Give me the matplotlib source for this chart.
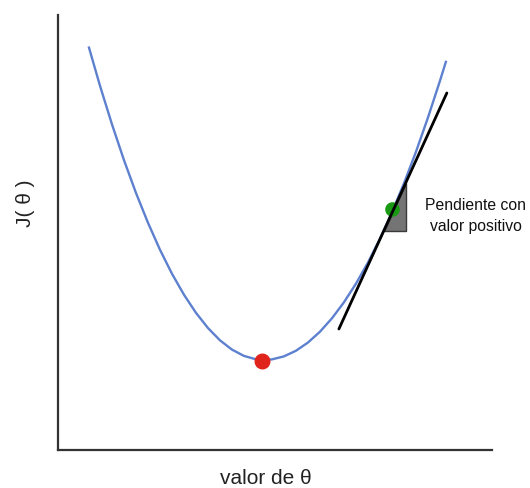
import matplotlib
matplotlib.use("Agg")
import matplotlib.pyplot as plt
from matplotlib.patches import Polygon

# curva de coste J(theta)
theta = [-175, -164, -152, -140, -128, -116, -104, -92, -80, -68, -56, -44, -32, -20, -8, 0,
         8, 20, 32, 44, 56, 68, 80, 92, 104, 116, 128, 140, 152, 164, 176, 182]
J = [402.4, 364.3, 325.7, 289.9, 257.1, 227.3, 200.3, 176.3, 155.3, 137.2, 122.0, 109.7, 100.4, 94.1, 90.7, 90.0,
     90.6, 93.6, 99.2, 107.4, 118.2, 131.6, 147.6, 166.2, 187.3, 211.1, 237.5, 266.4, 297.9, 332.1, 368.8, 388.1]

# minimo y punto con pendiente positiva
min_pt = (-2, 89)
pos_pt = (128, 241)

# recta tangente
tan_x = [75, 183]
tan_y = [121, 357]

# triangulo de pendiente
tri_x = [120, 142, 142]
tri_y = [219, 219, 267]

fig = plt.figure(figsize=(5.3, 4.88), dpi=100)
ax = fig.add_axes([0.1094, 0.0779, 0.8186, 0.8914])
plt.rcParams['font.family'] = ['Liberation Sans', 'DejaVu Sans']

ax.plot(theta, J, color='#5d80cf', lw=1.7, zorder=2)
ax.add_patch(Polygon(list(zip(tri_x, tri_y)), closed=True, facecolor='#747474',
                     edgecolor='#3a3a3a', lw=1, zorder=1))
ax.plot(tan_x, tan_y, color='black', lw=2, solid_capstyle='round', zorder=3)
ax.scatter([min_pt[0]], [min_pt[1]], s=110, color='#e0241b', zorder=4)
ax.scatter([pos_pt[0]], [pos_pt[1]], s=90, color='#1a9a14', zorder=2.5)

ax.text(212, 234, "Pendiente con\nvalor positivo", ha='center', va='center',
        multialignment='center', fontsize=11.3, family='Liberation Sans',
        color='#111111', linespacing=1.5)

ax.set_xlim(-206, 228)
ax.set_ylim(0, 435)
ax.set_xticks([])
ax.set_yticks([])
for s in ['top', 'right']:
    ax.spines[s].set_visible(False)
for s in ['left', 'bottom']:
    ax.spines[s].set_color('#333333')
    ax.spines[s].set_linewidth(1.6)

ax.set_xlabel("valor de θ", fontsize=15, family='Liberation Sans', color='#222222')
ax.set_ylabel("J( θ )", fontsize=15, family='Liberation Sans', color='#222222')
ax.xaxis.set_label_coords(0.479, -0.043)
ax.yaxis.set_label_coords(-0.052, 0.568)

fig.savefig("out.png", dpi=100)
